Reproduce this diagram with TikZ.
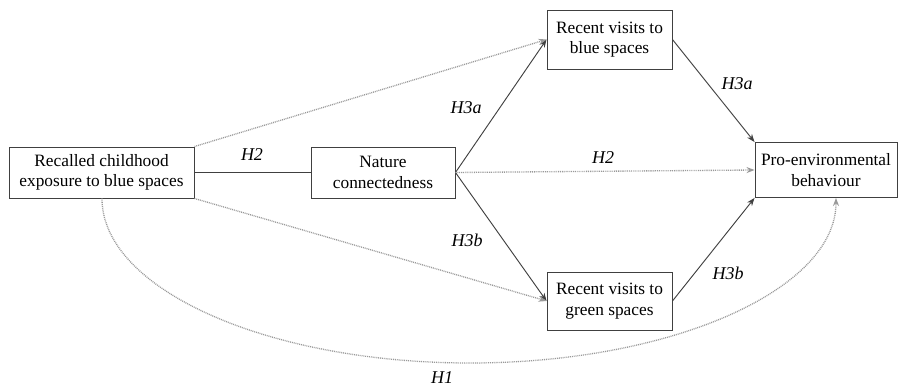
\documentclass[tikz,border=0pt]{standalone}
\usepackage{fontspec}
\setmainfont{Liberation Serif}
\usetikzlibrary{arrows.meta}
\begin{document}
\begin{tikzpicture}[x=0.75pt,y=-0.75pt,
  box/.style={draw=black!75,line width=0.7pt,rectangle,inner sep=0pt,align=center,font=\fontsize{13}{15.5}\selectfont},
  solidarr/.style={draw=black!75,line width=0.7pt,-{Stealth[length=6pt,width=4.5pt]}},
  dotarr/.style={draw=black!40,line width=1pt,dash pattern=on 0.7pt off 0.7pt,-{Stealth[length=6pt,width=4.5pt,fill=black!40]}},
  lab/.style={font=\fontsize{13.5}{15.5}\selectfont\itshape,inner sep=1pt}]
\useasboundingbox (0,0) rectangle (907,388);
\node[box,minimum width=185*0.75pt,minimum height=51*0.75pt] (rec) at (101.5,172.5) {Recalled childhood\\exposure to blue spaces};
\node[box,minimum width=144*0.75pt,minimum height=51*0.75pt] (nat) at (383,172.5) {Nature\\connectedness};
\node[box,minimum width=125*0.75pt,minimum height=59*0.75pt] (blue) at (609.5,39.5) {Recent visits to\\blue spaces};
\node[box,minimum width=125*0.75pt,minimum height=58*0.75pt] (green) at (609.5,301) {Recent visits to\\green spaces};
\node[box,minimum width=142*0.75pt,minimum height=55*0.75pt] (pro) at (826,170) {Pro-environmental\\behaviour};
% connectors
\draw[draw=black!75,line width=0.7pt] (rec.east) -- (nat.west);
\draw[solidarr] (nat.east) -- (blue.west);
\draw[solidarr] (nat.east) -- (green.west);
\draw[dotarr] (nat.east) -- (pro.west);
\draw[solidarr] (blue.east) -- (pro.north west);
\draw[solidarr] (green.east) -- (pro.south west);
\draw[dotarr] (rec.north east) -- (blue.west);
\draw[dotarr] (rec.south east) -- (green.west);
\coordinate (h1s) at (rec.south -| 102,0);
\coordinate (h1m) at (470,363);
\coordinate (h1e) at (pro.south -| 836,0);
\draw[dotarr] (h1s) .. controls (102,289) and (267,363) .. (h1m) .. controls (673,363) and (836,289) .. (h1e);
% labels
\node[lab] (l2a) at (252,155) {H2};
\node[lab] (l3a1) at (466,108) {H3a};
\node[lab] (l3b1) at (467,240) {H3b};
\node[lab] (l2b) at (603,158) {H2};
\node[lab] (l3a2) at (737,84) {H3a};
\node[lab] (l3b2) at (728,273) {H3b};
\node[lab] (l1) at (442,378) {H1};
\end{tikzpicture}
\end{document}
